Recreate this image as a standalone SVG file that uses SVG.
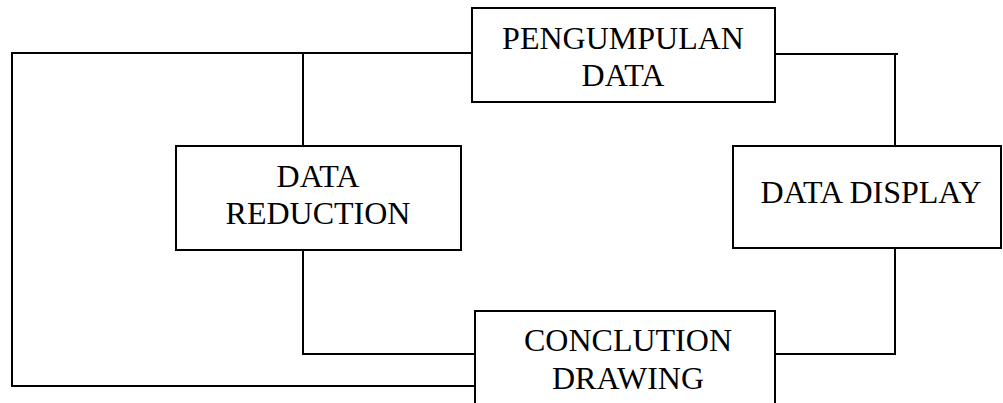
<svg xmlns="http://www.w3.org/2000/svg" width="1003" height="403" viewBox="0 0 1003 403">
<style>
.box{fill:#fff;stroke:#000;stroke-width:2}
.ln{fill:none;stroke:#000;stroke-width:2}
text{font-family:"Liberation Serif","Times New Roman",serif;font-size:32px;fill:#000;text-anchor:middle}
</style>
<rect width="1003" height="403" fill="#fff"/>
<g id="connectors">
<polyline class="ln" points="473,53 12,53 12,386 474,386"/>
<polyline class="ln" points="303,53 303,146"/>
<polyline class="ln" points="303,250 303,354 474,354"/>
<polyline class="ln" points="775,54 898,54"/>
<polyline class="ln" points="895,54 895,146"/>
<polyline class="ln" points="895,248 895,354 775,354"/>
</g>
<g id="pengumpulan">
<rect class="box" x="472" y="8" width="303" height="94"/>
<text x="623" y="49">PENGUMPULAN</text>
<text x="623" y="86">DATA</text>
</g>
<g id="reduction">
<rect class="box" x="176" y="146" width="285" height="104"/>
<text x="318" y="187">DATA</text>
<text x="318" y="224">REDUCTION</text>
</g>
<g id="display">
<rect class="box" x="733" y="146" width="268" height="102"/>
<text x="871" y="203">DATA DISPLAY</text>
</g>
<g id="conclusion">
<rect class="box" x="475" y="311" width="300" height="100"/>
<text x="628" y="351">CONCLUTION</text>
<text x="628" y="389">DRAWING</text>
</g>
</svg>
